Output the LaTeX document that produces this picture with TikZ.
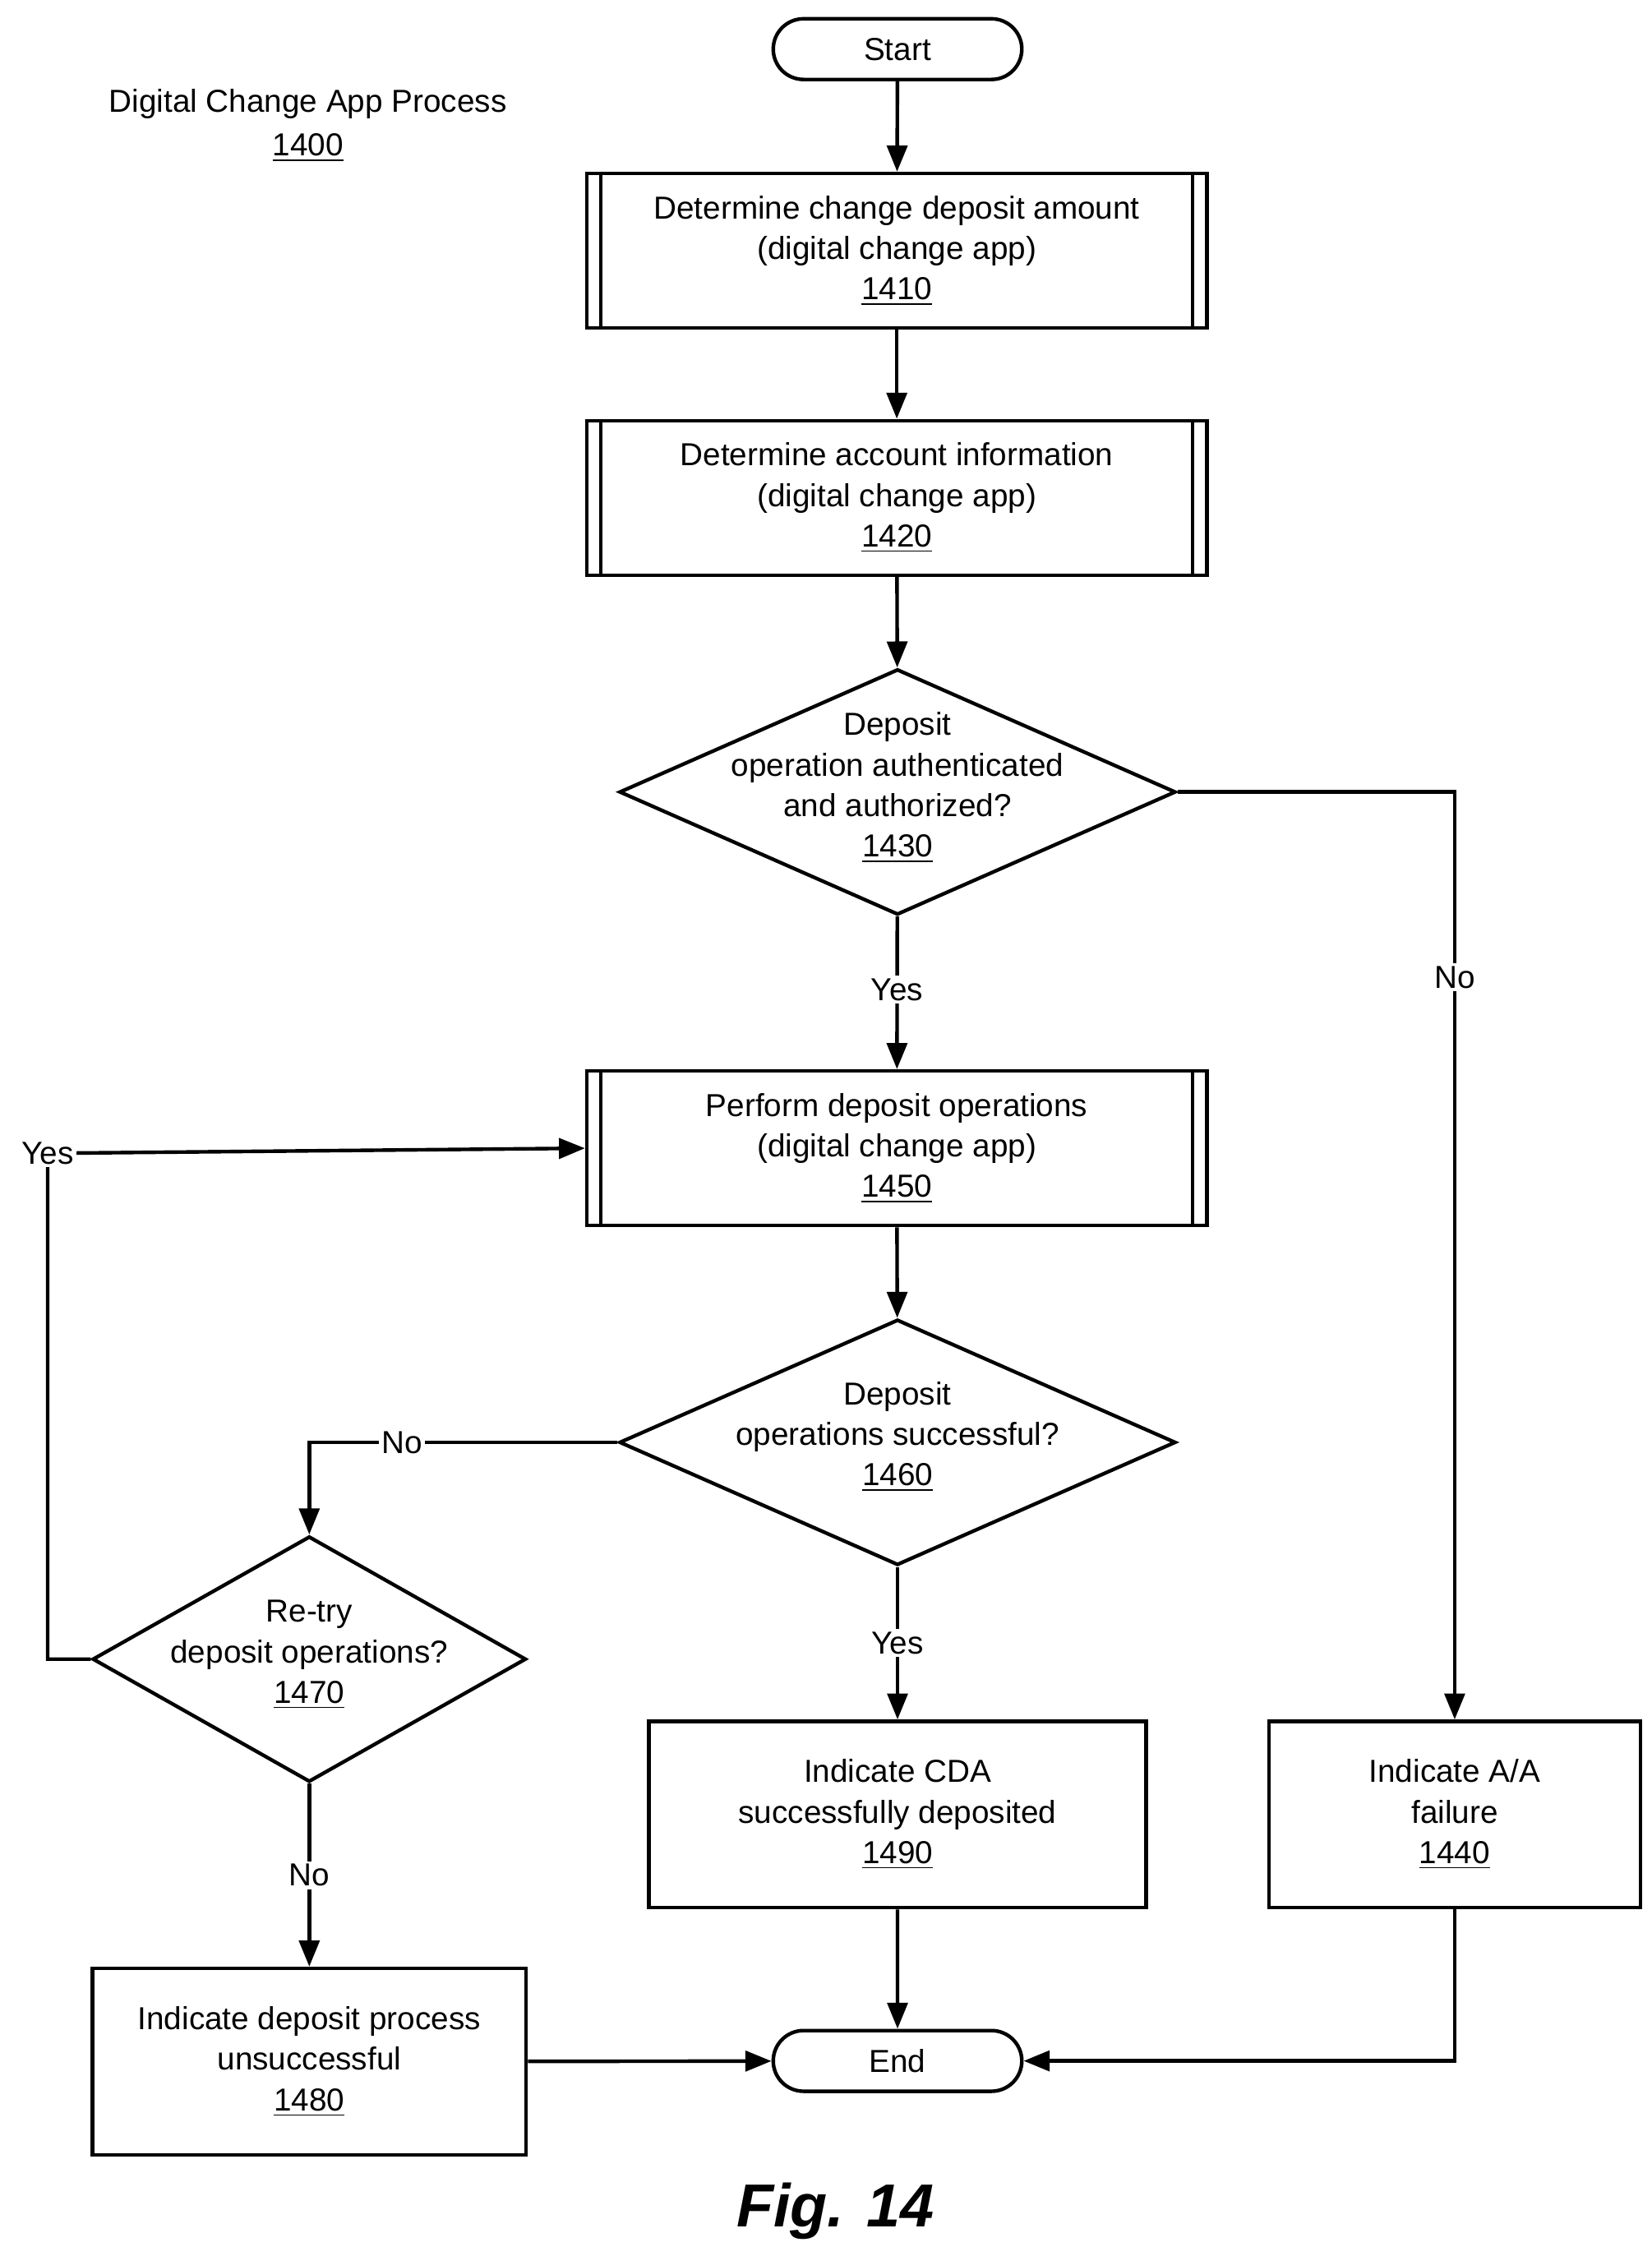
\documentclass[tikz,border=0pt]{standalone}
\usepackage{fontspec}
\setmainfont{Liberation Sans}
\usetikzlibrary{shapes.geometric,arrows.meta}
\begin{document}
\begin{tikzpicture}[x=0.5pt,y=-0.5pt,line width=1.25pt,
  font=\fontsize{11}{14}\selectfont,
  arr/.style={-{Triangle[length=9pt,width=7pt]}},
  term/.style={draw,rounded rectangle,minimum width=86pt,minimum height=21pt,inner sep=0pt},
  proc/.style={draw,minimum width=214.5pt,minimum height=53.5pt,align=center,inner sep=0pt},
  box/.style={draw,align=center,inner sep=0pt},
  dia/.style={draw,diamond,inner sep=0pt,minimum width=192.5pt,minimum height=85pt},
  lab/.style={fill=white,inner sep=1pt,align=center}]
\useasboundingbox (0,0) rectangle (1143,1561);
\usetikzlibrary{shapes.misc}
\node[term] (start) at (621,34) {Start};
\node[align=center] (title) at (213,87) {Digital Change App Process\\[1pt]\underline{1400}};
\node[proc] (p1410) at (620.5,173.5) {Determine change deposit amount\\(digital change app)\\\underline{1410}};
\draw (p1410.north west)++(11,0) -- ++(0,107) (p1410.north east)++(-11,0) -- ++(0,107);
\node[proc] (p1420) at (620.5,344.5) {Determine account information\\(digital change app)\\\underline{1420}};
\draw (p1420.north west)++(11,0) -- ++(0,107) (p1420.north east)++(-11,0) -- ++(0,107);
\node[dia] (d1430) at (621,548) {};
\node[align=center] at (621,545) {Deposit\\operation authenticated\\and authorized?\\\underline{1430}};
\node[proc] (p1450) at (620.5,794.5) {Perform deposit operations\\(digital change app)\\\underline{1450}};
\draw (p1450.north west)++(11,0) -- ++(0,107) (p1450.north east)++(-11,0) -- ++(0,107);
\node[dia] (d1460) at (621,998) {};
\node[align=center] at (621,994) {Deposit\\operations successful?\\\underline{1460}};
\node[dia,minimum width=150pt] (d1470) at (214,1148) {};
\node[align=center] at (214,1145) {Re-try\\deposit operations?\\\underline{1470}};
\node[box,minimum width=172pt,minimum height=64.5pt] (p1490) at (621,1255.5) {Indicate CDA\\successfully deposited\\\underline{1490}};
\node[box,minimum width=128.5pt,minimum height=64.5pt] (p1440) at (1006.5,1255.5) {Indicate A/A\\failure\\\underline{1440}};
\node[box,minimum width=150pt,minimum height=64.5pt] (p1480) at (214,1426.5) {Indicate deposit process\\unsuccessful\\\underline{1480}};
\node[term] (end) at (621,1426) {End};
\node at (578,1530) {\fontsize{21}{24}\selectfont\bfseries\itshape Fig. 14};
\draw[arr] (start) -- (p1410);
\draw[arr] (p1410) -- (p1420);
\draw[arr] (p1420) -- (d1430);
\draw[arr] (d1430) -- node[lab,pos=0.48]{Yes} (p1450);
\draw[arr] (d1430.east) -| node[lab,pos=0.6]{No} (p1440.north);
\draw[arr] (p1450) -- (d1460);
\draw[arr] (d1460.west) -| node[lab,pos=0.35]{No} (d1470.north);
\draw[arr] (d1460) -- node[lab,pos=0.5]{Yes} (p1490);
\coordinate (yc) at (33,798);
\draw[arr] (d1470.west) -| (yc) -- (p1450.west);
\node[lab] at (yc) {Yes};
\draw[arr] (d1470) -- node[lab,pos=0.5]{No} (p1480);
\draw[arr] (p1490) -- (end);
\draw[arr] (p1480) -- (end);
\draw[arr] (p1440.south) |- (end.east);
\end{tikzpicture}
\end{document}
